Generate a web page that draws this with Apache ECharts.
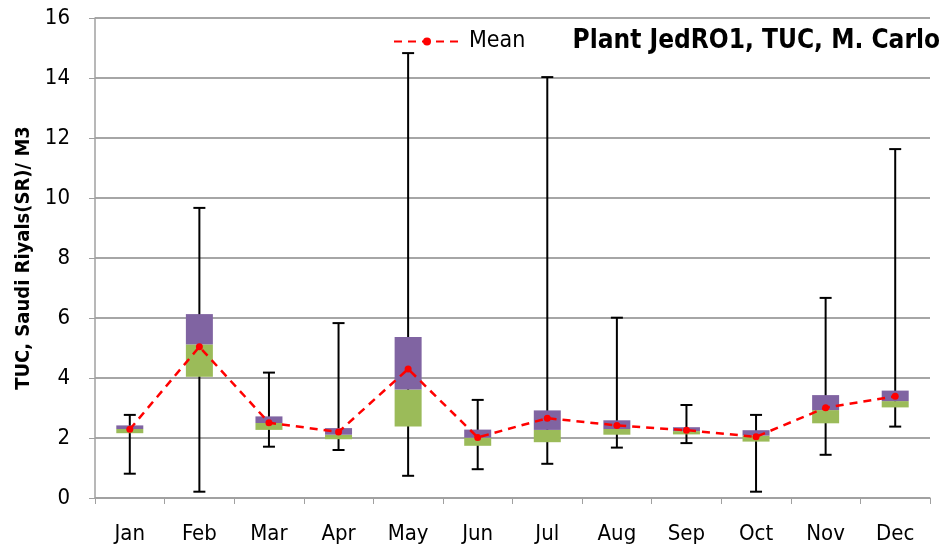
<!DOCTYPE html>
<html>
<head>
<meta charset="utf-8">
<script src="https://cdn.jsdelivr.net/npm/echarts@6/dist/echarts.min.js"></script>
<style>
html, body { margin: 0; padding: 0; background: #ffffff; }
#container { width: 951px; height: 552px; }
</style>
</head>
<body>
<div id="container"></div>
<script type="text/javascript">
    var months = ['Jan', 'Feb', 'Mar', 'Apr', 'May', 'Jun', 'Jul', 'Aug', 'Sep', 'Oct', 'Nov', 'Dec'];
    // box: lower edge, middle split, upper edge
    var boxLow = [2.16, 4.04, 2.27, 1.96, 2.38, 1.74, 1.86, 2.11, 2.12, 1.88, 2.49, 3.02];
    var boxMid = [2.30, 5.12, 2.50, 2.11, 3.62, 2.01, 2.27, 2.30, 2.23, 2.08, 2.93, 3.23];
    var boxHigh = [2.42, 6.13, 2.72, 2.33, 5.37, 2.28, 2.92, 2.59, 2.36, 2.26, 3.43, 3.58];
    // whiskers
    var whiskLow = [0.81, 0.21, 1.71, 1.60, 0.74, 0.96, 1.14, 1.68, 1.83, 0.21, 1.44, 2.38];
    var whiskHigh = [2.77, 9.67, 4.18, 5.83, 14.83, 3.27, 14.03, 6.01, 3.10, 2.77, 6.67, 11.63];
    var meanVals = [2.29, 5.04, 2.51, 2.20, 4.30, 2.02, 2.66, 2.42, 2.26, 2.04, 3.01, 3.39];

    var lowerPart = [], upperPart = [], whiskData = [];
    for (var i = 0; i < months.length; i++) {
        lowerPart.push(+(boxMid[i] - boxLow[i]).toFixed(3));
        upperPart.push(+(boxHigh[i] - boxMid[i]).toFixed(3));
        whiskData.push([i, whiskLow[i], whiskHigh[i]]);
    }

    var font = "'DejaVu Sans Condensed', sans-serif";
    var dom = document.getElementById("container");
    var myChart = echarts.init(dom);
    var option = {
        animation: false,
        textStyle: { fontFamily: font },
        title: {
            text: 'Plant JedRO1, TUC, M. Carlo',
            right: 6,
            top: 23,
            textStyle: { fontFamily: font, fontWeight: 'bold', fontSize: 26, color: '#000' }
        },
        legend: {
            data: ['Mean'],
            left: 388,
            top: 25,
            itemWidth: 66,
            itemHeight: 10,
            itemGap: 12,
            textStyle: { fontFamily: font, fontSize: 23, color: '#000', padding: [0, 0, 0, 4] }
        },
        grid: { left: 95, right: 21, top: 18, bottom: 54 },
        xAxis: {
            type: 'category',
            data: months,
            axisLine: { lineStyle: { color: '#a0a0a0', width: 1.5 } },
            axisTick: { show: true, length: 6, lineStyle: { color: '#a0a0a0' } },
            axisLabel: { fontFamily: font, fontSize: 22, color: '#000', margin: 25 }
        },
        yAxis: {
            type: 'value',
            min: 0,
            max: 16,
            interval: 2,
            name: 'TUC, Saudi Riyals(SR)/ M3',
            nameLocation: 'middle',
            nameGap: 60,
            nameTextStyle: { fontFamily: font, fontSize: 20, fontWeight: 'bold', color: '#000' },
            axisLine: { show: true, lineStyle: { color: '#a0a0a0', width: 1.5 } },
            axisTick: { show: true, length: 6, lineStyle: { color: '#a0a0a0' } },
            axisLabel: { fontFamily: font, fontSize: 22, color: '#000', margin: 25 },
            splitLine: { lineStyle: { color: '#a6a6a6', width: 2 } }
        },
        series: [
            {
                name: 'range',
                type: 'custom',
                z: 1,
                data: whiskData,
                renderItem: function (params, api) {
                    var x = api.value(0);
                    var lo = api.coord([x, api.value(1)]);
                    var hi = api.coord([x, api.value(2)]);
                    var half = 6;
                    var style = { stroke: '#000', lineWidth: 2 };
                    return {
                        type: 'group',
                        children: [
                            { type: 'line', shape: { x1: lo[0], y1: lo[1], x2: hi[0], y2: hi[1] }, style: style },
                            { type: 'line', shape: { x1: lo[0] - half, y1: lo[1], x2: lo[0] + half, y2: lo[1] }, style: style },
                            { type: 'line', shape: { x1: hi[0] - half, y1: hi[1], x2: hi[0] + half, y2: hi[1] }, style: style }
                        ]
                    };
                }
            },
            {
                name: 'base',
                type: 'bar',
                stack: 'box',
                z: 2,
                barWidth: 27,
                itemStyle: { color: 'transparent' },
                data: boxLow
            },
            {
                name: 'lower',
                type: 'bar',
                stack: 'box',
                z: 2,
                barWidth: 27,
                itemStyle: { color: '#9bbb59' },
                data: lowerPart
            },
            {
                name: 'upper',
                type: 'bar',
                stack: 'box',
                z: 2,
                barWidth: 27,
                itemStyle: { color: '#8064a2' },
                data: upperPart
            },
            {
                name: 'Mean',
                type: 'line',
                z: 5,
                data: meanVals,
                symbol: 'circle',
                symbolSize: 7,
                itemStyle: { color: '#ff0000' },
                lineStyle: { color: '#ff0000', width: 2.5, type: [8, 6] }
            }
        ]
    };
    myChart.setOption(option, true);
</script>
</body>
</html>
